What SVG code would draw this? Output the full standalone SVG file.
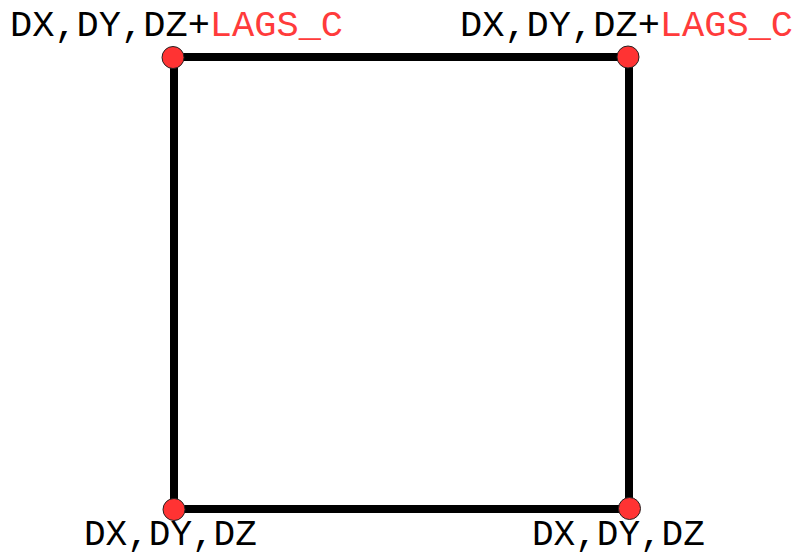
<svg xmlns="http://www.w3.org/2000/svg" width="794" height="556" viewBox="0 0 794 556">
<style>
.lbl{font-family:"Liberation Mono","Courier New",monospace;font-size:37px;fill:#000}
.bot{font-size:36px}
.red{fill:#ff3b3b}
.pt{fill:#ff3333;stroke:#222;stroke-width:1}
.edge{stroke:#000;stroke-width:8;fill:none;stroke-linecap:square}
</style>
<rect width="794" height="556" fill="#fff"/>
<g id="connectors">
<line class="edge" x1="174" y1="57" x2="629" y2="57"/>
<line class="edge" x1="629" y1="57" x2="629" y2="509"/>
<line class="edge" x1="629" y1="509" x2="174" y2="509"/>
<line class="edge" x1="174" y1="509" x2="174" y2="57"/>
</g>
<g id="node-tl">
<circle class="pt" cx="173" cy="57.5" r="11"/>
<text class="lbl" x="10" y="36">DX,DY,DZ+<tspan class="red">LAGS_C</tspan></text>
</g>
<g id="node-tr">
<circle class="pt" cx="628" cy="57" r="11"/>
<text class="lbl" x="460" y="36">DX,DY,DZ+<tspan class="red">LAGS_C</tspan></text>
</g>
<g id="node-bl">
<circle class="pt" cx="174" cy="509.5" r="11"/>
<text class="lbl bot" x="84" y="545">DX,DY,DZ</text>
</g>
<g id="node-br">
<circle class="pt" cx="629.5" cy="508.5" r="11"/>
<text class="lbl bot" x="532" y="545">DX,DY,DZ</text>
</g>
</svg>
